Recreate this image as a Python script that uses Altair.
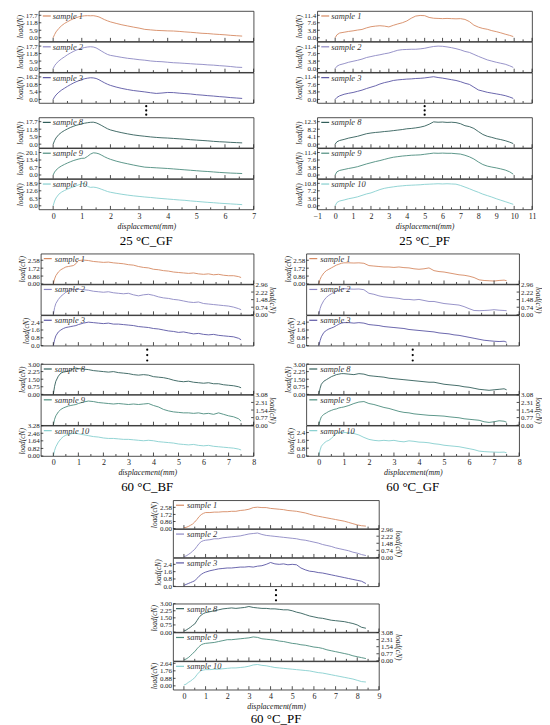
import altair as alt
import pandas as pd

FONT = "Liberation Serif"
INK = "#222222"
COLORS = {1: "#D68A62", 2: "#8C87C3", 3: "#5A55A3", 8: "#315E5A", 9: "#4B8C7D", 10: "#86CFCF"}
SAMPLES = [1, 2, 3, 8, 9, 10]

# ---------------- 25 °C_GF ----------------
X_GF25 = [0, 0.05, 0.1, 0.2, 0.3, 0.4, 0.5, 0.6, 0.7, 0.8, 0.9, 1.0, 1.1, 1.2, 1.3, 1.4, 1.5, 1.6, 1.7, 1.8, 1.9, 2.0,
          2.2, 2.4, 2.6, 2.8, 3.0, 3.2, 3.4, 3.6, 3.8, 4.0, 4.2, 4.4, 4.6, 4.8, 5.0, 5.2, 5.4, 5.6, 5.8, 6.0, 6.2, 6.4, 6.6]
GF25_S1 = [0, 2.5, 4.6, 7.4, 9.6, 11.3, 12.6, 13.8, 14.9, 15.8, 16.5, 17.0, 17.3, 17.4, 17.3, 17.4, 17.0, 16.4, 15.3, 14.2, 13.3, 12.5,
           11.3, 10.2, 9.3, 8.4, 7.6, 6.6, 6.2, 5.8, 5.6, 5.4, 5.3, 5.0, 4.6, 4.3, 3.9, 3.5, 3.3, 2.9, 2.6, 2.3, 1.9, 1.6, 1.3]
GF25_S2 = [0, 2.2, 3.8, 6.0, 7.8, 9.3, 10.9, 12.2, 13.4, 14.5, 15.3, 16.0, 16.6, 17.0, 17.2, 17.0, 16.3, 15.0, 13.6, 12.3, 11.1, 10.4,
           9.6, 8.8, 8.1, 7.6, 7.0, 6.6, 6.0, 5.6, 5.4, 5.0, 4.6, 4.4, 4.1, 3.8, 3.5, 3.3, 2.9, 2.7, 2.3, 2.0, 1.6, 1.1, 0.9]
GF25_S3 = [0, 1.8, 3.2, 5.2, 6.8, 8.1, 9.4, 10.6, 11.7, 12.7, 13.5, 14.3, 14.9, 15.3, 15.6, 15.5, 15.1, 14.2, 13.0, 11.9, 10.9, 10.1,
           8.9, 7.9, 7.1, 6.4, 5.9, 5.4, 4.8, 4.3, 4.6, 5.0, 4.9, 4.5, 4.2, 3.9, 3.4, 3.1, 2.7, 2.4, 2.0, 1.7, 1.3, 1.0, 0.7]
GF25_S8 = [0, 2.8, 4.9, 7.6, 9.4, 10.8, 12.0, 13.1, 14.0, 14.8, 15.4, 16.0, 16.5, 16.9, 17.2, 17.3, 16.8, 15.8, 14.6, 13.3, 12.1, 11.2,
           10.0, 9.0, 8.1, 7.3, 6.7, 6.2, 5.7, 5.3, 5.0, 4.8, 4.5, 4.2, 3.9, 3.5, 3.2, 2.9, 2.6, 2.2, 1.9, 1.7, 1.4, 1.2, 1.0]
GF25_S9 = [0, 2.6, 4.3, 6.6, 8.2, 9.5, 10.7, 11.8, 12.8, 13.6, 14.3, 14.9, 15.0, 16.6, 18.6, 19.8, 19.6, 18.9, 17.6, 16.2, 15.0, 14.0,
           12.4, 11.1, 10.0, 8.9, 7.9, 7.0, 6.7, 6.4, 6.1, 5.8, 5.4, 5.0, 4.6, 4.2, 3.8, 3.4, 3.1, 2.7, 2.3, 2.0, 1.7, 1.5, 1.3]
GF25_S10 = [0, 4.0, 6.6, 9.8, 11.6, 12.9, 14.0, 15.0, 15.9, 16.8, 17.7, 18.6, 18.9, 16.3, 15.5, 15.7, 15.4, 14.7, 13.8, 12.9, 12.0, 11.4,
            10.5, 9.7, 9.0, 8.4, 7.9, 7.4, 7.0, 6.5, 6.1, 5.7, 5.3, 4.9, 4.6, 4.1, 3.7, 3.3, 2.9, 2.6, 2.2, 1.9, 1.6, 1.3, 1.0]

# ---------------- 25 °C_PF ----------------
X_PF25 = [0, 0.1, 0.25, 0.5, 0.75, 1.0, 1.25, 1.5, 1.75, 2.0, 2.25, 2.5, 2.75, 3.0, 3.25, 3.5, 3.75, 4.0, 4.25, 4.5, 4.75, 5.0,
          5.25, 5.5, 5.75, 6.0, 6.25, 6.5, 6.75, 7.0, 7.25, 7.5, 7.75, 8.0, 8.25, 8.5, 8.75, 9.0, 9.25, 9.5, 9.75, 9.95]
PF25_S1 = [0, 1.5, 2.4, 2.8, 3.2, 3.5, 3.9, 4.2, 5.0, 5.6, 5.9, 6.1, 5.9, 5.5, 6.3, 7.0, 7.6, 8.5, 9.9, 11.0, 11.3, 11.2,
           10.3, 9.9, 9.8, 9.7, 9.8, 9.7, 9.6, 9.7, 9.3, 8.2, 6.4, 5.4, 4.7, 4.3, 3.6, 3.1, 2.5, 1.8, 1.2, 0.6]
PF25_S2 = [0, 1.2, 1.9, 2.5, 3.2, 3.7, 4.2, 4.8, 5.6, 6.1, 6.6, 7.0, 7.5, 7.9, 8.6, 9.3, 9.6, 9.7, 9.8, 9.8, 10.0, 10.3,
           10.8, 11.2, 11.4, 11.3, 11.0, 10.6, 10.1, 9.5, 8.7, 8.2, 7.2, 6.2, 5.3, 4.4, 3.8, 3.2, 2.7, 2.2, 1.4, 0.6]
PF25_S3 = [0, 1.0, 1.8, 2.6, 3.1, 3.5, 4.1, 4.7, 5.5, 6.2, 6.9, 7.8, 8.5, 9.0, 9.6, 9.9, 10.1, 10.3, 10.4, 10.6, 10.7, 10.9,
           11.2, 11.5, 11.1, 10.8, 10.4, 10.0, 9.6, 9.0, 8.2, 7.6, 6.2, 4.8, 4.2, 3.6, 3.2, 2.8, 2.4, 1.9, 1.2, 0.5]
PF25_S8 = [0, 1.3, 2.0, 2.6, 3.3, 3.8, 4.3, 5.0, 5.7, 6.1, 6.4, 6.6, 6.9, 7.1, 7.4, 7.7, 8.0, 8.4, 8.6, 8.9, 9.3, 9.9,
           10.9, 12.2, 12.0, 12.1, 11.9, 12.0, 11.8, 11.2, 10.1, 9.6, 8.6, 6.9, 5.3, 4.3, 3.7, 3.0, 2.5, 1.9, 1.1, 0.3]
PF25_S9 = [0, 1.6, 2.3, 2.8, 3.3, 3.7, 4.2, 4.9, 5.6, 6.2, 6.8, 7.3, 7.9, 8.5, 9.0, 9.3, 9.6, 9.8, 10.0, 10.1, 10.2, 10.5,
           10.8, 11.1, 11.0, 11.1, 11.0, 11.0, 10.8, 10.6, 10.0, 9.2, 8.1, 6.6, 5.3, 4.5, 4.0, 3.6, 3.1, 2.5, 1.6, 0.4]
PF25_S10 = [0, 1.6, 2.3, 2.8, 3.4, 3.8, 4.3, 5.0, 5.7, 6.2, 7.0, 7.8, 8.4, 8.8, 9.1, 9.4, 9.6, 9.8, 9.9, 10.0, 10.1, 10.3,
            10.4, 10.5, 10.6, 10.5, 10.6, 10.5, 10.4, 9.8, 9.0, 8.2, 7.3, 6.5, 5.6, 4.9, 4.2, 3.4, 2.7, 2.0, 1.3, 0.7]

# ---------------- 60 °C_BF / 60 °C_GF ----------------
X_MID = [0, 0.05, 0.1, 0.2, 0.3, 0.4, 0.5, 0.6, 0.7, 0.8, 0.9, 1.0,
         1.2, 1.4, 1.6, 1.8, 2.0, 2.2, 2.4, 2.6, 2.8, 3.0,
         3.2, 3.4, 3.6, 3.8, 4.0, 4.2, 4.4, 4.6, 4.8, 5.0,
         5.2, 5.4, 5.6, 5.8, 6.0, 6.2, 6.4, 6.6, 6.8, 7.0,
         7.2, 7.4, 7.5]
BF60_S1 = [0, 0.55, 0.9, 1.3, 1.55, 1.7, 1.85, 1.9, 1.95, 2.0, 2.2, 2.55,
           2.6, 2.55, 2.45, 2.4, 2.35, 2.38, 2.3, 2.25, 2.2, 2.1,
           2.05, 1.9, 1.8, 1.75, 1.6, 1.55, 1.45, 1.4, 1.3, 1.25,
           1.2, 1.15, 1.2, 1.1, 1.05, 1.1, 1.0, 1.05, 0.95, 0.9,
           0.9, 0.8, 0.7]
BF60_S2 = [0, 0.7, 1.1, 1.5, 1.8, 2.0, 2.2, 2.35, 2.45, 2.5, 2.45, 2.5,
           2.45, 2.4, 2.3, 2.25, 2.2, 2.25, 2.15, 2.1, 2.05, 2.1,
           1.95, 1.85, 1.95, 2.0, 1.9, 1.75, 1.65, 1.6, 1.5, 1.45,
           1.35, 1.25, 1.2, 1.25, 1.1, 1.05, 1.0, 0.95, 0.9, 0.85,
           0.75, 0.6, 0.5]
BF60_S3 = [0, 0.6, 1.0, 1.4, 1.6, 1.75, 1.85, 1.9, 1.95, 2.0, 2.05, 2.15,
           2.3, 2.4, 2.35, 2.3, 2.25, 2.3, 2.2, 2.2, 2.15, 2.1,
           2.05, 1.95, 1.9, 1.85, 1.75, 1.7, 1.6, 1.5, 1.45, 1.35,
           1.4, 1.3, 1.2, 1.25, 1.15, 1.1, 1.15, 1.05, 1.0, 0.95,
           0.9, 0.75, 0.6]
BF60_S8 = [0, 0.8, 1.3, 1.8, 2.1, 2.2, 2.25, 2.3, 2.4, 2.55, 2.6, 2.55,
           2.5, 2.45, 2.35, 2.3, 2.25, 2.2, 2.25, 2.15, 2.1, 2.05,
           1.95, 1.9, 1.95, 1.9, 1.75, 1.7, 1.65, 1.55, 1.4, 1.3,
           1.25, 1.3, 1.2, 1.15, 1.1, 1.15, 1.05, 1.05, 0.95, 0.9,
           0.85, 0.75, 0.65]
BF60_S9 = [0, 0.6, 0.95, 1.35, 1.6, 1.75, 1.85, 1.95, 2.0, 2.05, 2.1, 2.2,
           2.35, 2.45, 2.4, 2.3, 2.25, 2.2, 2.15, 2.2, 2.15, 2.1,
           2.15, 2.1, 2.15, 2.2, 2.0, 1.85, 1.6, 1.45, 1.35, 1.3,
           1.25, 1.25, 1.2, 1.25, 1.15, 1.2, 1.1, 1.25, 1.1, 0.95,
           0.85, 0.65, 0.4]
BF60_S10 = [0, 0.6, 1.0, 1.5, 1.85, 2.1, 2.25, 2.35, 2.4, 2.45, 2.45, 2.4,
            2.3, 2.2, 2.1, 2.05, 1.95, 1.9, 1.9, 1.85, 1.8, 1.8,
            1.75, 1.7, 1.65, 1.7, 1.65, 1.55, 1.5, 1.45, 1.4, 1.3,
            1.25, 1.2, 1.25, 1.15, 1.1, 1.15, 1.05, 1.0, 0.95, 0.9,
            0.85, 0.75, 0.65]
GF60_S1 = [0, 0.5, 0.8, 1.2, 1.45, 1.6, 1.75, 1.9, 2.05, 2.15, 2.25, 2.3,
           2.3, 2.28, 2.3, 2.25, 2.0, 1.95, 1.9, 1.85, 1.85, 1.8,
           1.85, 1.78, 1.75, 1.65, 1.6, 1.65, 1.75, 1.45, 1.35, 1.3,
           1.2, 1.1, 1.0, 0.95, 0.85, 0.7, 0.45, 0.38, 0.35, 0.32,
           0.38, 0.42, 0.35]
GF60_S2 = [0, 0.6, 0.95, 1.4, 1.7, 1.9, 2.05, 2.2, 2.3, 2.4, 2.5, 2.55,
           2.52, 2.5, 2.52, 2.45, 2.1, 2.0, 1.85, 1.75, 1.7, 1.65,
           1.6, 1.5, 1.5, 1.45, 1.5, 1.4, 1.3, 1.3, 1.2, 1.1,
           1.05, 1.0, 0.95, 0.8, 0.6, 0.42, 0.4, 0.42, 0.45, 0.5,
           0.45, 0.42, 0.4]
GF60_S3 = [0, 0.5, 0.9, 1.35, 1.55, 1.7, 1.8, 1.9, 2.05, 2.2, 2.3, 2.35,
           2.35, 2.3, 2.35, 2.3, 2.15, 2.1, 2.05, 1.95, 1.9, 1.85,
           1.8, 1.75, 1.65, 1.6, 1.55, 1.5, 1.45, 1.4, 1.3, 1.25,
           1.2, 1.1, 1.05, 0.95, 0.85, 0.75, 0.65, 0.55, 0.5, 0.45,
           0.42, 0.45, 0.35]
GF60_S8 = [0, 0.6, 1.0, 1.3, 1.45, 1.6, 1.75, 1.85, 1.95, 2.0, 2.05, 2.05,
           2.0, 1.95, 2.05, 2.0, 1.85, 1.8, 1.75, 1.7, 1.6, 1.55,
           1.5, 1.45, 1.4, 1.35, 1.3, 1.25, 1.2, 1.2, 1.1, 1.0,
           0.95, 0.9, 0.85, 0.75, 0.7, 0.6, 0.5, 0.45, 0.4, 0.45,
           0.5, 0.55, 0.45]
GF60_S9 = [0, 0.5, 0.85, 1.1, 1.25, 1.4, 1.5, 1.6, 1.65, 1.75, 1.8, 1.85,
           2.0, 2.2, 2.35, 2.4, 2.2, 2.1, 1.95, 1.8, 1.7, 1.55,
           1.4, 1.3, 1.25, 1.15, 1.1, 1.05, 1.0, 0.98, 0.95, 0.92,
           0.85, 0.8, 0.75, 0.65, 0.6, 0.55, 0.5, 0.35, 0.28, 0.35,
           0.45, 0.4, 0.3]
GF60_S10 = [0, 0.6, 1.0, 1.3, 1.5, 1.6, 1.8, 2.05, 2.3, 2.4, 2.42, 2.4,
            2.38, 2.3, 2.15, 1.9, 1.7, 1.6, 1.55, 1.6, 1.55, 1.6,
            1.5, 1.45, 1.55, 1.5, 1.42, 1.4, 1.35, 1.25, 1.2, 1.1,
            1.05, 1.0, 0.95, 0.85, 0.75, 0.65, 0.5, 0.45, 0.42, 0.4,
            0.38, 0.4, 0.32]

# ---------------- 60 °C_PF ----------------
X_PF60 = [0, 0.1, 0.2, 0.3, 0.4, 0.5, 0.6, 0.7, 0.8, 0.9, 1.0,
          1.2, 1.4, 1.6, 1.8, 2.0, 2.2, 2.4, 2.6, 2.8, 3.0,
          3.2, 3.4, 3.6, 3.8, 4.0, 4.2, 4.4, 4.6, 4.8, 5.0,
          5.2, 5.4, 5.6, 5.8, 6.0, 6.2, 6.4, 6.6, 6.8, 7.0,
          7.2, 7.4, 7.6, 7.8, 8.0, 8.2, 8.4]
PF60_S1 = [0.1, 0.15, 0.25, 0.4, 0.55, 0.8, 1.1, 1.45, 1.7, 1.85, 1.95,
           1.95, 2.0, 2.0, 2.05, 2.05, 2.1, 2.1, 2.2, 2.25, 2.35,
           2.55, 2.6, 2.55, 2.55, 2.45, 2.4, 2.35, 2.3, 2.2, 2.15,
           2.1, 2.0, 1.9, 1.75, 1.6, 1.5, 1.4, 1.3, 1.2, 1.1,
           1.0, 0.9, 0.75, 0.6, 0.45, 0.35, 0.3]
PF60_S2 = [0.1, 0.15, 0.3, 0.45, 0.65, 0.85, 1.15, 1.45, 1.65, 1.75, 1.8,
           1.85, 1.95, 1.95, 2.05, 2.1, 2.15, 2.2, 2.25, 2.35, 2.45,
           2.5, 2.55, 2.4, 2.3, 2.25, 2.2, 2.15, 2.1, 2.05, 2.0,
           1.95, 1.85, 1.8, 1.7, 1.6, 1.5, 1.35, 1.25, 1.15, 1.0,
           0.9, 0.8, 0.7, 0.55, 0.45, 0.3, 0.2]
PF60_S3 = [0.1, 0.2, 0.3, 0.4, 0.5, 0.6, 0.85, 1.1, 1.3, 1.45, 1.55,
           1.7, 1.8, 1.9, 1.95, 2.0, 2.0, 2.05, 2.1, 2.1, 2.15,
           2.1, 2.2, 2.25, 2.4, 2.6, 2.45, 2.4, 2.45, 2.35, 2.4,
           2.35, 2.0, 1.8, 1.65, 1.6, 1.5, 1.45, 1.35, 1.25, 1.15,
           1.05, 0.95, 0.85, 0.75, 0.65, 0.55, 0.3]
PF60_S8 = [0.1, 0.2, 0.35, 0.5, 0.7, 0.85, 1.2, 1.55, 1.8, 1.95, 2.05,
           2.15, 2.25, 2.35, 2.45, 2.5, 2.55, 2.5, 2.55, 2.6, 2.7,
           2.6, 2.55, 2.5, 2.5, 2.45, 2.45, 2.4, 2.35, 2.35, 2.25,
           2.1, 2.0, 1.85, 1.7, 1.6, 1.5, 1.45, 1.35, 1.25, 1.2,
           1.15, 1.1, 1.0, 0.9, 0.75, 0.5, 0.4]
PF60_S9 = [0.1, 0.2, 0.35, 0.55, 0.8, 1.0, 1.3, 1.55, 1.75, 1.85, 1.9,
           1.95, 2.0, 2.1, 2.2, 2.3, 2.3, 2.35, 2.4, 2.45, 2.5,
           2.6, 2.55, 2.4, 2.35, 2.3, 2.25, 2.15, 2.1, 2.0, 1.9,
           1.85, 1.75, 1.7, 1.6, 1.5, 1.45, 1.35, 1.2, 1.1, 1.0,
           0.9, 0.8, 0.7, 0.55, 0.45, 0.35, 0.25]
PF60_S10 = [0.1, 0.2, 0.4, 0.55, 0.75, 0.95, 1.3, 1.6, 1.8, 1.85, 1.9,
            1.9, 1.95, 1.95, 2.0, 2.05, 2.1, 2.1, 2.15, 2.2, 2.3,
            2.45, 2.5, 2.4, 2.35, 2.25, 2.15, 2.1, 2.05, 2.0, 1.95,
            1.9, 1.85, 1.8, 1.75, 1.65, 1.55, 1.5, 1.4, 1.3, 1.2,
            1.1, 1.0, 0.9, 0.8, 0.65, 0.5, 0.45]

# ---------------- axis ticks ----------------
XT_GF25 = [0, 1, 2, 3, 4, 5, 6, 7]
XM_GF25 = [0.5, 1.5, 2.5, 3.5, 4.5, 5.5, 6.5]
XT_PF25 = [-1, 0, 1, 2, 3, 4, 5, 6, 7, 8, 9, 10, 11]
XM_PF25 = [-0.5, 0.5, 1.5, 2.5, 3.5, 4.5, 5.5, 6.5, 7.5, 8.5, 9.5, 10.5]
XT_MID = [0, 1, 2, 3, 4, 5, 6, 7, 8]
XM_MID = [0.5, 1.5, 2.5, 3.5, 4.5, 5.5, 6.5, 7.5]
XT_PF60 = [0, 1, 2, 3, 4, 5, 6, 7, 8, 9]
XM_PF60 = [0.5, 1.5, 2.5, 3.5, 4.5, 5.5, 6.5, 7.5, 8.5]

YT_GF25 = {1: [0, 5.9, 11.8, 17.7], 2: [0, 5.9, 11.8, 17.7], 3: [0, 5.4, 10.8, 16.2],
           8: [0, 5.9, 11.8, 17.7], 9: [0, 6.7, 13.4, 20.1], 10: [0, 6.3, 12.6, 18.9]}
YT_PF25 = {1: [0, 3.8, 7.6, 11.4], 2: [0, 3.8, 7.6, 11.4], 3: [0, 3.8, 7.6, 11.4],
           8: [0, 4.1, 8.2, 12.3], 9: [0, 3.8, 7.6, 11.4], 10: [0, 3.6, 7.2, 10.8]}
YT_BF60 = {1: [0, 0.86, 1.72, 2.58], 2: [0, 0.74, 1.48, 2.22, 2.96], 3: [0, 0.8, 1.6, 2.4],
           8: [0, 0.75, 1.5, 2.25, 3.0], 9: [0, 0.77, 1.54, 2.31, 3.08], 10: [0, 0.82, 1.64, 2.46, 3.28]}
YT_GF60 = {1: [0, 0.86, 1.72, 2.58], 2: [0, 0.74, 1.48, 2.22, 2.96], 3: [0, 0.8, 1.6, 2.4],
           8: [0, 0.75, 1.5, 2.25, 3.0], 9: [0, 0.77, 1.54, 2.31, 3.08], 10: [0, 0.8, 1.6, 2.4]}
YT_PF60 = {1: [0, 0.86, 1.72, 2.58], 2: [0, 0.74, 1.48, 2.22, 2.96], 3: [0, 0.8, 1.6, 2.4],
           8: [0, 0.75, 1.5, 2.25, 3.0], 9: [0, 0.77, 1.54, 2.31, 3.08], 10: [0, 0.88, 1.76, 2.64]}

YD_BF60 = {1: [0, 3.3], 2: [0, 2.96], 3: [0, 3.1], 8: [0, 3.0], 9: [0, 3.08], 10: [0, 3.28]}
YD_GF60 = {1: [0, 3.3], 2: [0, 2.96], 3: [0, 3.1], 8: [0, 3.0], 9: [0, 3.08], 10: [0, 3.1]}
YD_PF60 = {1: [0, 3.44], 2: [0, 2.96], 3: [0, 3.1], 8: [0, 3.0], 9: [0, 3.08], 10: [-0.45, 2.87]}


def top_domains(ticks):
    return {s: [-0.16 * t[-1], 1.19 * t[-1]] for s, t in ticks.items()}


GROUPS = [
    dict(name="25 °C_GF", x=X_GF25, y={1: GF25_S1, 2: GF25_S2, 3: GF25_S3, 8: GF25_S8, 9: GF25_S9, 10: GF25_S10},
         xdom=[-0.5, 7], xt=XT_GF25, xm=XM_GF25, yt=YT_GF25, yd=top_domains(YT_GF25), right=[],
         ytitle="load(N)", w=216, h=30.5, gap=14, th=35, lx=(4, 12), tx=14),
    dict(name="25 °C_PF", x=X_PF25, y={1: PF25_S1, 2: PF25_S2, 3: PF25_S3, 8: PF25_S8, 9: PF25_S9, 10: PF25_S10},
         xdom=[-1, 11], xt=XT_PF25, xm=XM_PF25, yt=YT_PF25, yd=top_domains(YT_PF25), right=[],
         ytitle="load(N)", w=216, h=30.5, gap=14, th=35, lx=(4, 12), tx=14),
    dict(name="60 °C_BF", x=X_MID, y={1: BF60_S1, 2: BF60_S2, 3: BF60_S3, 8: BF60_S8, 9: BF60_S9, 10: BF60_S10},
         xdom=[-0.5, 8], xt=XT_MID, xm=XM_MID, yt=YT_BF60, yd=YD_BF60, right=[2, 9],
         ytitle="load(cN)", w=214, h=30.5, gap=18, th=35, lx=(3, 11), tx=14),
    dict(name="60 °C_GF", x=X_MID, y={1: GF60_S1, 2: GF60_S2, 3: GF60_S3, 8: GF60_S8, 9: GF60_S9, 10: GF60_S10},
         xdom=[-0.5, 8], xt=XT_MID, xm=XM_MID, yt=YT_GF60, yd=YD_GF60, right=[2, 9],
         ytitle="load(cN)", w=214, h=30.5, gap=18, th=35, lx=(3, 11), tx=14),
    dict(name="60 °C_PF", x=X_PF60, y={1: PF60_S1, 2: PF60_S2, 3: PF60_S3, 8: PF60_S8, 9: PF60_S9, 10: PF60_S10},
         xdom=[-0.5, 9], xt=XT_PF60, xm=XM_PF60, yt=YT_PF60, yd=YD_PF60, right=[2, 9],
         ytitle="load(cN)", w=207, h=28.5, gap=17, th=33, lx=(3, 11), tx=14),
]


def fmt_for(ticks):
    return ".1f" if all(abs(t * 10 - round(t * 10)) < 1e-9 for t in ticks) else ".2f"


def panel(g, s, show_x):
    W, H = g["w"], g["h"]
    xsc = alt.Scale(domain=g["xdom"], nice=False, zero=False)
    ysc = alt.Scale(domain=g["yd"][s], nice=False, zero=False)
    yt = g["yt"][s]
    right = s in g["right"]
    if show_x:
        xax = alt.Axis(values=g["xt"], format="d", title="displacement(mm)", ticks=False, domain=False,
                       grid=False, labelFlush=False, labelOverlap=False, labelFont=FONT, labelFontSize=8,
                       labelPadding=3, labelColor=INK, titleFont=FONT, titleFontSize=8,
                       titleFontStyle="italic", titleFontWeight="normal", titleColor=INK, titlePadding=2)
    else:
        xax = None
    yax = alt.Axis(values=yt, format=fmt_for(yt), title=g["ytitle"], orient="right" if right else "left",
                   ticks=False, domain=False, grid=False, labelOverlap=False, labelFont=FONT,
                   labelFontSize=7, labelPadding=1.5, labelColor=INK, titleFont=FONT, titleFontSize=7.5,
                   titleFontStyle="italic", titleFontWeight="normal", titleColor=INK, titlePadding=0.5)
    X = alt.X("x:Q", scale=xsc, axis=xax)
    Y = alt.Y("y:Q", scale=ysc, axis=yax)

    df = pd.DataFrame({"x": g["x"], "y": g["y"][s]})
    line = alt.Chart(df).mark_line(color=COLORS[s], strokeWidth=0.9).encode(x=X, y=Y)
    xmaj = alt.Chart(pd.DataFrame({"x": g["xt"]})).mark_rule(color=INK, strokeWidth=0.8).encode(
        x=X, y=alt.value(H), y2=alt.value(H - 3.5))
    xmin = alt.Chart(pd.DataFrame({"x": g["xm"]})).mark_rule(color=INK, strokeWidth=0.8).encode(
        x=X, y=alt.value(H), y2=alt.value(H - 2))
    if right:
        ytk = alt.Chart(pd.DataFrame({"y": yt})).mark_rule(color=INK, strokeWidth=0.8).encode(
            y=Y, x=alt.value(W - 2.5), x2=alt.value(W))
    else:
        ytk = alt.Chart(pd.DataFrame({"y": yt})).mark_rule(color=INK, strokeWidth=0.8).encode(
            y=Y, x=alt.value(0), x2=alt.value(2.5))
    leg = pd.DataFrame({"label": [f"sample {s}"]})
    lr = alt.Chart(leg).mark_rule(color=COLORS[s], strokeWidth=1.2).encode(
        x=alt.value(g["lx"][0]), x2=alt.value(g["lx"][1]), y=alt.value(5))
    lt = alt.Chart(leg).mark_text(align="left", baseline="middle", font=FONT, fontSize=8.5,
                                  fontStyle="italic", color="#333333").encode(
        x=alt.value(g["tx"]), y=alt.value(5), text="label:N")
    return alt.layer(line, xmaj, xmin, ytk, lr, lt).properties(
        width=W, height=H, view=alt.ViewBackground(stroke=INK, strokeWidth=0.8))


def dots(g):
    ddf = pd.DataFrame({"c": [0, 0, 0], "d": [0, 1, 2]})
    return alt.Chart(ddf).mark_circle(size=5, color="black", opacity=1).encode(
        x=alt.X("c:Q", axis=None, scale=alt.Scale(domain=[-1, 1])),
        y=alt.Y("d:Q", axis=None, scale=alt.Scale(domain=[-0.65, 2.65]))
    ).properties(width=g["w"], height=g["gap"], view=alt.ViewBackground(stroke="transparent"))


def title_chart(g):
    tdf = pd.DataFrame({"t": [g["name"]]})
    return alt.Chart(tdf).mark_text(font=FONT, fontSize=13, baseline="alphabetic", color="black").encode(
        x=alt.value(g["w"] / 2), y=alt.value(g["th"]), text="t:N"
    ).properties(width=g["w"], height=g["th"], view=alt.ViewBackground(stroke="transparent"))


def spacer(w, h):
    return alt.Chart(pd.DataFrame({"c": [0]})).mark_point(opacity=0).encode(
        x=alt.X("c:Q", axis=None), y=alt.Y("c:Q", axis=None)
    ).properties(width=w, height=h, view=alt.ViewBackground(stroke="transparent"))


def group(g):
    ps = [panel(g, s, s == 10) for s in SAMPLES]
    return alt.vconcat(ps[0], ps[1], ps[2], dots(g), ps[3], ps[4], ps[5], title_chart(g),
                       spacing=0, bounds="flush")


G = [group(g) for g in GROUPS]
row1 = alt.hconcat(spacer(4, 10), G[0], spacer(36, 10), G[1], spacing=0)
row2 = alt.hconcat(spacer(7, 10), G[2], spacer(1, 10), G[3], spacing=0)
row3 = alt.hconcat(spacer(140, 10), G[4], spacing=0)

chart = alt.vconcat(row1, row2, row3, spacing=4).properties(padding=0).configure(font=FONT)

chart.save("out.html", embed_options={"renderer": "svg", "actions": False})
